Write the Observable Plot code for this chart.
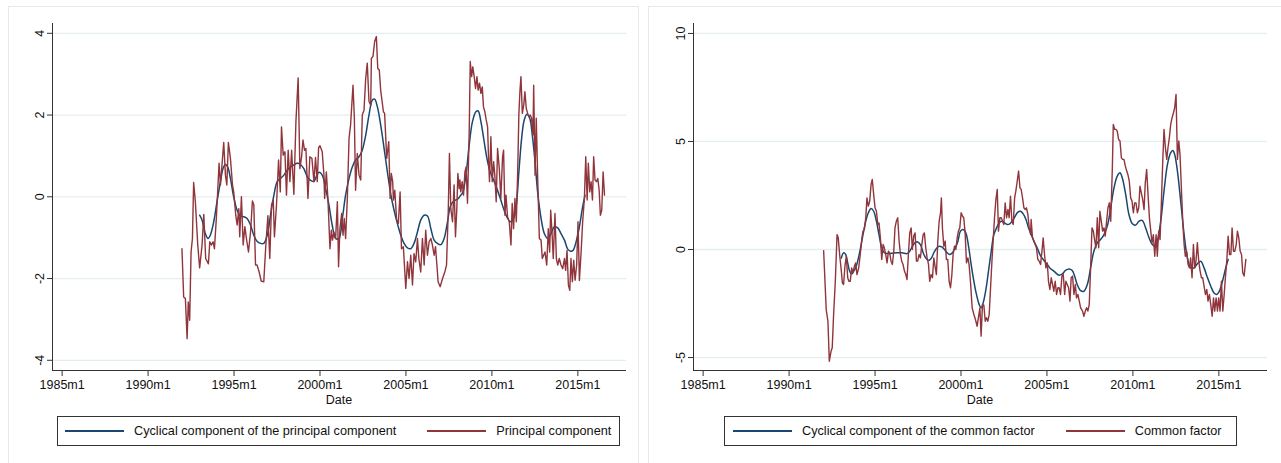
<!DOCTYPE html>
<html><head><meta charset="utf-8">
<script src="https://cdn.jsdelivr.net/npm/d3@7"></script>
<script src="https://cdn.jsdelivr.net/npm/@observablehq/plot@0.6"></script>
<style>
body{margin:0;background:#fff;font-family:"Liberation Sans",Arial,sans-serif;}
#page{position:relative;width:1281px;height:463px;overflow:hidden;}
.frame{position:absolute;border:1px solid #e3eaee;box-sizing:border-box;}
.chart{position:absolute;top:0;}
.xtitle{position:absolute;top:393px;width:100px;text-align:center;font-size:12.5px;color:#111;line-height:14px;}
.legend{position:absolute;top:416px;height:30px;border:1px solid #333;display:flex;align-items:center;font-size:12.7px;color:#111;box-sizing:border-box;white-space:nowrap;}
.key{display:inline-block;width:59px;height:0;border-top:2px solid;margin-right:10px;vertical-align:middle;}
.item{display:flex;align-items:center;}
</style></head>
<body><div id="page"></div>
<script>
// ---- data (decimal year, value) ----
const xTicks = [1985, 1990, 1995, 2000, 2005, 2010, 2015];
const xTickLabels = ["1985m1","1990m1","1995m1","2000m1","2005m1","2010m1","2015m1"];
const leftYTicks = [-4, -2, 0, 2, 4];
const rightYTicks = [-5, 0, 5, 10];
const leftLegend = ["Cyclical component of the principal component", "Principal component"];
const rightLegend = ["Cyclical component of the common factor", "Common factor"];

const principal = [[1991.97,-1.27],[1992.07,-2.45],[1992.17,-2.49],[1992.27,-3.47],[1992.34,-2.57],[1992.42,-3.02],[1992.5,-1.35],[1992.58,-1.02],[1992.65,0.35],[1992.75,-0.12],[1992.89,-1.18],[1993.0,-1.74],[1993.14,-1.18],[1993.24,-0.43],[1993.35,-1.51],[1993.51,-1.64],[1993.59,-1.1],[1993.68,-1.18],[1993.78,-1.1],[1993.86,-1.27],[1993.97,-0.53],[1994.13,0.82],[1994.21,0.29],[1994.3,0.78],[1994.4,1.33],[1994.5,0.53],[1994.58,0.29],[1994.67,1.33],[1994.79,0.94],[1994.91,0.29],[1994.98,0.12],[1995.1,-0.45],[1995.18,-0.69],[1995.28,-0.29],[1995.33,-0.98],[1995.43,0.0],[1995.53,-1.18],[1995.63,-0.73],[1995.72,-1.02],[1995.84,-1.35],[1995.96,-0.86],[1996.07,-0.1],[1996.15,-0.2],[1996.25,-1.67],[1996.34,-1.67],[1996.46,-1.84],[1996.58,-2.06],[1996.73,-2.08],[1996.85,-1.18],[1996.97,-0.46],[1997.08,-1.51],[1997.18,-0.2],[1997.28,-0.08],[1997.35,-0.98],[1997.47,-0.2],[1997.59,0.9],[1997.69,0.12],[1997.76,1.71],[1997.86,1.02],[1997.96,1.1],[1998.05,0.04],[1998.15,1.14],[1998.25,0.37],[1998.35,1.14],[1998.48,0.06],[1998.6,1.84],[1998.73,2.91],[1998.83,0.69],[1998.93,0.98],[1999.01,1.39],[1999.1,1.14],[1999.18,1.18],[1999.3,-0.04],[1999.41,0.98],[1999.53,0.94],[1999.65,0.37],[1999.74,0.96],[1999.84,0.37],[1999.92,1.2],[2000.0,1.25],[2000.13,1.1],[2000.23,0.53],[2000.27,-0.04],[2000.37,0.61],[2000.46,-0.04],[2000.58,-1.27],[2000.66,-0.82],[2000.73,-1.06],[2000.81,-0.86],[2000.91,-1.02],[2001.01,-0.12],[2001.08,-1.71],[2001.16,-0.78],[2001.26,-0.41],[2001.34,-0.94],[2001.41,-0.53],[2001.49,-1.02],[2001.59,-0.04],[2001.69,1.43],[2001.78,1.76],[2001.92,2.73],[2002.0,1.92],[2002.07,0.16],[2002.17,1.06],[2002.27,0.53],[2002.37,0.41],[2002.46,2.0],[2002.56,2.12],[2002.66,2.9],[2002.75,3.27],[2002.85,2.33],[2002.95,2.24],[2002.99,3.39],[2003.08,3.43],[2003.18,3.8],[2003.28,3.92],[2003.36,3.14],[2003.45,3.1],[2003.53,2.61],[2003.69,2.08],[2003.76,2.04],[2003.88,0.94],[2004.0,1.35],[2004.08,-0.04],[2004.15,0.57],[2004.23,0.37],[2004.27,-0.08],[2004.35,0.16],[2004.46,-0.57],[2004.56,-0.65],[2004.66,0.12],[2004.74,-1.27],[2004.85,-1.22],[2004.99,-2.24],[2005.09,-1.59],[2005.18,-2.0],[2005.28,-1.43],[2005.38,-2.16],[2005.47,-1.39],[2005.57,-1.59],[2005.67,-1.02],[2005.75,-1.51],[2005.86,-1.84],[2005.96,-1.02],[2006.06,-1.67],[2006.15,-0.82],[2006.25,-1.43],[2006.35,-1.1],[2006.45,-1.02],[2006.54,-1.18],[2006.64,-1.43],[2006.72,-1.22],[2006.8,-1.67],[2006.87,-2.08],[2006.99,-2.2],[2007.13,-2.0],[2007.26,-1.84],[2007.36,-1.67],[2007.46,-0.37],[2007.53,1.06],[2007.61,-0.29],[2007.71,-0.61],[2007.8,0.29],[2007.88,-0.98],[2007.96,-0.29],[2008.02,0.57],[2008.1,0.2],[2008.14,0.41],[2008.19,0.12],[2008.27,0.37],[2008.35,0.04],[2008.43,0.61],[2008.5,0.73],[2008.58,-0.16],[2008.68,1.59],[2008.74,3.31],[2008.82,2.94],[2008.89,3.18],[2008.97,2.94],[2009.05,2.65],[2009.13,2.94],[2009.2,2.61],[2009.28,2.78],[2009.36,2.53],[2009.44,2.69],[2009.51,2.2],[2009.59,2.08],[2009.67,1.88],[2009.75,1.71],[2009.81,0.86],[2009.86,0.37],[2009.94,1.47],[2010.02,0.37],[2010.1,0.86],[2010.17,0.53],[2010.25,-0.12],[2010.33,1.18],[2010.43,0.69],[2010.52,-0.04],[2010.62,0.98],[2010.68,1.14],[2010.76,-0.45],[2010.82,0.04],[2010.91,-0.49],[2011.01,-0.61],[2011.11,-1.18],[2011.18,-0.16],[2011.26,-0.78],[2011.34,-0.04],[2011.42,-0.61],[2011.5,0.61],[2011.57,2.04],[2011.63,2.57],[2011.69,2.94],[2011.77,2.04],[2011.85,2.24],[2011.92,2.57],[2012.0,2.16],[2012.08,2.04],[2012.16,1.96],[2012.23,2.0],[2012.31,1.92],[2012.39,1.51],[2012.43,2.73],[2012.51,0.53],[2012.58,1.92],[2012.66,0.53],[2012.76,-1.02],[2012.86,-1.06],[2012.93,-1.51],[2013.01,-1.43],[2013.09,-1.35],[2013.19,-1.67],[2013.28,-0.78],[2013.36,-1.35],[2013.42,-0.33],[2013.5,-0.9],[2013.57,-1.51],[2013.67,-0.41],[2013.75,-1.51],[2013.83,-1.67],[2013.92,-1.51],[2014.02,-1.67],[2014.12,-1.76],[2014.22,-1.51],[2014.29,-1.8],[2014.37,-1.31],[2014.45,-2.16],[2014.53,-2.29],[2014.6,-1.51],[2014.68,-2.08],[2014.76,-1.55],[2014.84,-2.04],[2014.93,-1.67],[2015.01,-0.61],[2015.09,-2.05],[2015.19,-1.35],[2015.28,-0.61],[2015.38,-0.04],[2015.46,0.98],[2015.54,-0.08],[2015.61,0.82],[2015.69,0.12],[2015.77,0.37],[2015.85,-0.08],[2015.92,0.98],[2016.0,0.41],[2016.08,0.37],[2016.16,0.45],[2016.24,0.16],[2016.31,-0.45],[2016.39,-0.33],[2016.47,0.61],[2016.55,0.04]];

const principalCycle = [[1993.0,-0.45],[1993.14,-0.57],[1993.33,-0.9],[1993.49,-1.02],[1993.62,-0.94],[1993.82,-0.61],[1994.01,-0.12],[1994.21,0.37],[1994.36,0.69],[1994.5,0.79],[1994.63,0.73],[1994.79,0.45],[1994.98,0.0],[1995.18,-0.33],[1995.37,-0.47],[1995.57,-0.49],[1995.76,-0.53],[1995.96,-0.69],[1996.15,-0.94],[1996.34,-1.09],[1996.54,-1.14],[1996.73,-1.14],[1996.93,-0.94],[1997.12,-0.45],[1997.32,0.04],[1997.51,0.37],[1997.7,0.45],[1997.9,0.53],[1998.09,0.65],[1998.29,0.73],[1998.48,0.78],[1998.67,0.82],[1998.87,0.79],[1999.06,0.69],[1999.26,0.49],[1999.45,0.4],[1999.65,0.38],[1999.84,0.55],[1999.96,0.6],[2000.13,0.53],[2000.33,0.2],[2000.52,-0.2],[2000.71,-0.69],[2000.91,-1.02],[2001.1,-1.02],[2001.3,-0.53],[2001.49,0.04],[2001.69,0.45],[2001.88,0.73],[2002.07,0.9],[2002.27,0.98],[2002.46,1.14],[2002.66,1.51],[2002.85,2.0],[2003.05,2.37],[2003.18,2.39],[2003.34,2.2],[2003.53,1.76],[2003.73,1.18],[2003.92,0.61],[2004.11,0.08],[2004.31,-0.33],[2004.5,-0.65],[2004.7,-0.94],[2004.89,-1.14],[2005.09,-1.25],[2005.28,-1.27],[2005.47,-1.14],[2005.67,-0.86],[2005.86,-0.57],[2006.06,-0.45],[2006.25,-0.47],[2006.45,-0.78],[2006.64,-1.06],[2006.83,-1.14],[2007.03,-1.17],[2007.22,-1.02],[2007.42,-0.61],[2007.61,-0.2],[2007.8,-0.1],[2008.0,-0.06],[2008.19,0.04],[2008.3,0.1],[2008.49,0.53],[2008.68,1.27],[2008.87,1.84],[2009.07,2.08],[2009.2,2.1],[2009.36,1.84],[2009.55,1.35],[2009.71,0.94],[2009.9,0.61],[2010.1,0.41],[2010.29,0.2],[2010.49,-0.04],[2010.68,-0.29],[2010.87,-0.49],[2011.07,-0.61],[2011.26,-0.53],[2011.42,-0.2],[2011.57,0.61],[2011.73,1.43],[2011.88,1.88],[2012.04,2.02],[2012.2,1.92],[2012.35,1.51],[2012.51,0.86],[2012.66,0.12],[2012.86,-0.53],[2013.05,-0.9],[2013.24,-1.02],[2013.44,-0.9],[2013.63,-0.73],[2013.83,-0.76],[2014.02,-0.9],[2014.22,-1.06],[2014.41,-1.28],[2014.57,-1.33],[2014.72,-1.31],[2014.9,-1.1],[2015.09,-0.73],[2015.28,-0.24],[2015.42,0.04]];

const common = [[1992.01,-0.05],[1992.16,-2.78],[1992.26,-3.32],[1992.34,-5.17],[1992.44,-4.71],[1992.51,-4.55],[1992.59,-3.01],[1992.69,-1.47],[1992.79,0.69],[1992.86,0.54],[1992.94,-0.23],[1993.04,-1.0],[1993.1,-1.54],[1993.17,-1.62],[1993.25,-0.77],[1993.33,-0.31],[1993.41,-1.31],[1993.48,-1.47],[1993.56,-1.47],[1993.64,-0.85],[1993.72,-1.08],[1993.8,-0.77],[1993.87,-0.62],[1993.95,-1.16],[1994.05,-0.85],[1994.14,-0.23],[1994.24,0.54],[1994.3,0.85],[1994.38,0.93],[1994.46,1.47],[1994.53,2.39],[1994.61,2.01],[1994.69,2.24],[1994.77,3.01],[1994.84,3.24],[1994.92,2.55],[1995.0,1.93],[1995.08,1.77],[1995.16,1.16],[1995.23,1.23],[1995.31,0.54],[1995.39,-0.46],[1995.47,0.23],[1995.54,0.08],[1995.62,-0.23],[1995.7,-0.62],[1995.78,-0.08],[1995.85,-0.15],[1995.93,-0.54],[1996.01,-0.69],[1996.09,-0.08],[1996.16,1.0],[1996.24,1.31],[1996.32,1.47],[1996.4,0.39],[1996.48,-0.23],[1996.55,-0.54],[1996.63,-0.69],[1996.71,-1.0],[1996.79,-1.16],[1996.86,-1.39],[1996.94,-0.23],[1997.02,0.77],[1997.1,1.0],[1997.17,0.0],[1997.25,0.62],[1997.33,0.77],[1997.41,-0.54],[1997.48,-0.54],[1997.56,-0.23],[1997.64,-0.39],[1997.72,0.23],[1997.8,0.69],[1997.87,0.77],[1997.95,0.08],[1998.03,-0.39],[1998.11,-0.69],[1998.18,-1.47],[1998.26,-1.16],[1998.34,-1.31],[1998.42,-0.39],[1998.49,-0.77],[1998.57,-1.16],[1998.65,0.39],[1998.73,1.31],[1998.81,1.7],[1998.86,2.39],[1998.92,1.0],[1999.0,0.15],[1999.08,0.39],[1999.15,-0.46],[1999.23,-0.46],[1999.31,-1.47],[1999.39,-1.77],[1999.47,-1.16],[1999.54,-0.23],[1999.62,0.15],[1999.7,0.0],[1999.78,0.54],[1999.85,0.85],[1999.93,1.0],[2000.01,1.7],[2000.09,1.54],[2000.16,1.47],[2000.24,0.77],[2000.32,-0.62],[2000.4,-0.39],[2000.47,-0.69],[2000.55,-1.47],[2000.65,-2.7],[2000.75,-3.01],[2000.84,-3.24],[2000.94,-3.55],[2001.04,-3.01],[2001.1,-2.7],[2001.17,-4.01],[2001.25,-2.55],[2001.33,-2.58],[2001.41,-3.32],[2001.48,-3.16],[2001.56,-3.32],[2001.64,-3.01],[2001.72,-1.77],[2001.8,-0.54],[2001.87,0.39],[2001.95,1.47],[2002.03,2.31],[2002.11,2.78],[2002.18,0.85],[2002.26,1.47],[2002.34,1.47],[2002.42,1.31],[2002.49,1.16],[2002.57,2.16],[2002.65,1.47],[2002.73,1.85],[2002.8,1.47],[2002.88,2.47],[2002.96,1.31],[2003.04,1.16],[2003.12,2.39],[2003.19,2.7],[2003.27,3.16],[2003.35,3.63],[2003.43,2.85],[2003.5,2.78],[2003.58,2.39],[2003.66,1.93],[2003.74,1.85],[2003.81,1.93],[2003.89,1.62],[2003.97,1.0],[2004.05,0.69],[2004.08,1.39],[2004.16,0.54],[2004.24,0.39],[2004.32,0.23],[2004.39,0.08],[2004.47,-0.46],[2004.55,-0.54],[2004.63,-0.69],[2004.71,-0.08],[2004.78,0.54],[2004.86,-0.23],[2004.94,-0.85],[2005.02,-0.62],[2005.09,-1.47],[2005.17,-1.85],[2005.25,-1.31],[2005.33,-1.62],[2005.4,-1.93],[2005.48,-1.47],[2005.56,-2.08],[2005.64,-1.77],[2005.71,-1.77],[2005.79,-2.08],[2005.87,-1.23],[2005.95,-1.16],[2006.03,-2.08],[2006.1,-1.47],[2006.18,-1.62],[2006.26,-1.77],[2006.34,-2.39],[2006.41,-1.31],[2006.49,-1.23],[2006.57,-2.08],[2006.65,-1.62],[2006.72,-2.24],[2006.8,-2.08],[2006.88,-2.39],[2006.96,-2.7],[2007.07,-2.85],[2007.15,-3.09],[2007.23,-2.85],[2007.31,-2.7],[2007.38,-2.85],[2007.46,-2.55],[2007.54,-0.85],[2007.62,1.0],[2007.7,0.85],[2007.77,0.46],[2007.85,0.08],[2007.93,1.47],[2008.01,0.08],[2008.08,1.77],[2008.16,1.31],[2008.24,0.85],[2008.32,1.0],[2008.39,0.62],[2008.47,1.31],[2008.55,1.93],[2008.63,2.16],[2008.71,1.31],[2008.8,3.63],[2008.86,5.79],[2008.94,5.56],[2009.02,5.56],[2009.09,5.48],[2009.17,5.09],[2009.25,5.02],[2009.33,4.24],[2009.4,4.17],[2009.48,4.17],[2009.56,3.86],[2009.64,3.63],[2009.71,3.47],[2009.79,3.16],[2009.87,2.39],[2009.95,2.24],[2009.99,1.93],[2010.03,1.7],[2010.1,2.16],[2010.18,2.16],[2010.26,1.7],[2010.34,1.93],[2010.41,2.93],[2010.49,2.62],[2010.57,2.31],[2010.65,1.85],[2010.72,3.09],[2010.8,3.7],[2010.88,2.55],[2010.96,1.47],[2011.03,0.93],[2011.11,0.31],[2011.19,0.69],[2011.27,-0.31],[2011.35,0.69],[2011.42,-0.31],[2011.5,0.85],[2011.58,0.46],[2011.66,2.24],[2011.73,3.94],[2011.81,5.56],[2011.89,4.71],[2011.97,4.17],[2012.04,4.71],[2012.12,5.17],[2012.2,5.79],[2012.28,6.1],[2012.36,6.33],[2012.43,6.56],[2012.51,7.18],[2012.59,4.17],[2012.67,5.02],[2012.74,4.4],[2012.82,2.85],[2012.9,1.31],[2012.98,0.23],[2013.05,-0.31],[2013.13,-0.08],[2013.21,-0.69],[2013.29,-0.85],[2013.36,-0.39],[2013.44,-1.31],[2013.52,0.23],[2013.6,-0.85],[2013.67,-0.54],[2013.75,0.31],[2013.83,-0.54],[2013.91,-1.0],[2013.99,-1.31],[2014.06,-1.31],[2014.14,-1.7],[2014.22,-2.08],[2014.3,-1.85],[2014.37,-2.39],[2014.45,-2.08],[2014.53,-2.55],[2014.61,-3.09],[2014.69,-2.24],[2014.76,-2.85],[2014.84,-2.24],[2014.92,-2.85],[2014.99,-2.24],[2015.07,-2.85],[2015.15,-1.47],[2015.23,-2.85],[2015.31,-2.08],[2015.38,-1.31],[2015.46,-0.54],[2015.54,0.62],[2015.62,-0.23],[2015.7,-0.23],[2015.77,1.0],[2015.85,-0.08],[2015.93,-0.08],[2016.01,0.23],[2016.08,0.85],[2016.16,0.54],[2016.24,-0.08],[2016.32,-0.23],[2016.39,-1.08],[2016.47,-1.23],[2016.57,-0.46]];

const commonCycle = [[1993.04,-0.39],[1993.17,-0.15],[1993.29,-0.23],[1993.41,-0.62],[1993.52,-1.0],[1993.64,-1.13],[1993.76,-1.0],[1993.87,-0.85],[1993.99,-0.54],[1994.14,0.0],[1994.3,0.69],[1994.46,1.31],[1994.61,1.7],[1994.77,1.9],[1994.92,1.77],[1995.08,1.31],[1995.23,0.69],[1995.39,0.08],[1995.54,-0.15],[1995.74,-0.19],[1995.99,-0.17],[1996.28,-0.15],[1996.57,-0.15],[1996.86,-0.19],[1997.02,-0.08],[1997.17,0.15],[1997.33,0.32],[1997.48,0.35],[1997.64,0.23],[1997.8,-0.15],[1997.95,-0.39],[1998.11,-0.51],[1998.26,-0.42],[1998.42,-0.15],[1998.57,0.05],[1998.73,0.15],[1998.88,0.12],[1999.04,0.0],[1999.19,-0.15],[1999.35,-0.23],[1999.5,-0.15],[1999.66,0.08],[1999.81,0.35],[1999.97,0.85],[2000.13,0.93],[2000.28,0.77],[2000.44,0.15],[2000.59,-0.69],[2000.75,-1.47],[2000.9,-2.08],[2001.06,-2.55],[2001.17,-2.7],[2001.29,-2.47],[2001.45,-1.85],[2001.6,-1.0],[2001.76,-0.08],[2001.91,0.69],[2002.07,1.0],[2002.22,1.23],[2002.38,1.31],[2002.53,1.23],[2002.69,1.16],[2002.84,1.19],[2003.0,1.34],[2003.15,1.54],[2003.31,1.73],[2003.46,1.77],[2003.62,1.65],[2003.78,1.39],[2003.93,1.0],[2004.05,0.77],[2004.24,0.39],[2004.43,0.08],[2004.63,-0.3],[2004.82,-0.5],[2005.02,-0.69],[2005.2,-0.88],[2005.4,-1.0],[2005.7,-1.19],[2005.89,-1.13],[2006.08,-0.97],[2006.28,-0.9],[2006.47,-0.97],[2006.61,-1.23],[2006.76,-1.62],[2006.96,-1.9],[2007.15,-1.93],[2007.35,-1.62],[2007.54,-0.85],[2007.73,-0.08],[2007.93,0.31],[2008.12,0.46],[2008.32,0.69],[2008.51,1.08],[2008.71,1.93],[2008.9,2.85],[2009.09,3.4],[2009.25,3.55],[2009.38,3.32],[2009.58,2.55],[2009.77,1.62],[2009.97,1.19],[2010.16,1.13],[2010.36,1.31],[2010.55,1.34],[2010.74,1.0],[2010.94,0.54],[2011.13,0.23],[2011.27,0.15],[2011.42,0.39],[2011.62,1.31],[2011.81,2.7],[2012.01,3.94],[2012.2,4.48],[2012.32,4.58],[2012.43,4.4],[2012.59,3.63],[2012.78,2.24],[2012.98,0.69],[2013.17,-0.39],[2013.36,-0.85],[2013.56,-0.85],[2013.75,-0.66],[2013.95,-0.54],[2014.14,-0.85],[2014.34,-1.31],[2014.53,-1.7],[2014.72,-2.01],[2014.88,-2.08],[2015.03,-1.93],[2015.21,-1.47],[2015.4,-0.85],[2015.54,-0.46]];

// ---- styles ----
const RED = "#90353b", BLUE = "#1a476f";
const FONT = "'Liberation Sans', Arial, sans-serif";
const xDomain = [1984.44, 2017.83];

const page = document.getElementById("page");

function addFrame(left, width) {
  const f = document.createElement("div");
  f.className = "frame";
  Object.assign(f.style, {left: left + "px", top: "6px", width: width + "px", height: "470px"});
  page.appendChild(f);
}
addFrame(8, 631);
addFrame(648, 640);

function panel({left, width, ml, mr, yDomain, yTicks, raw, cyc, legend, legendLeft, legendWidth, legendPad}) {
  const chart = Plot.plot({
    width, height: 410,
    marginLeft: ml, marginRight: mr, marginTop: 23, marginBottom: 40,
    style: {fontFamily: FONT, fontSize: "12.5px", color: "#111", background: "transparent", overflow: "visible"},
    x: {domain: xDomain, label: null},
    y: {domain: yDomain, label: null},
    marks: [
      Plot.gridY(yTicks, {stroke: "#e4edf0", strokeOpacity: 1, strokeWidth: 1.3}),
      Plot.axisY(yTicks, {tickRotate: -90, tickSize: 5, tickPadding: 4, label: null, tickFormat: d => String(d), stroke: "#333"}),
      Plot.axisX(xTicks, {tickSize: 6, tickPadding: 4, label: null, tickFormat: d => xTickLabels[xTicks.indexOf(d)], stroke: "#333"}),
      Plot.ruleX([xDomain[0]], {stroke: "#333", strokeWidth: 1}),
      Plot.ruleY([yDomain[0]], {stroke: "#333", strokeWidth: 1}),
      Plot.line(cyc, {x: d => d[0], y: d => d[1], stroke: BLUE, strokeWidth: 1.5, curve: "catmull-rom"}),
      Plot.line(raw, {x: d => d[0], y: d => d[1], stroke: RED, strokeWidth: 1.4})
    ]
  });
  chart.classList.add("chart");
  chart.style.left = left + "px";
  page.appendChild(chart);

  const center = left + (ml + (width - mr)) / 2;
  const t = document.createElement("div");
  t.className = "xtitle";
  t.style.left = (center - 50) + "px";
  t.textContent = "Date";
  page.appendChild(t);

  const lg = document.createElement("div");
  lg.className = "legend";
  Object.assign(lg.style, {left: legendLeft + "px", width: legendWidth + "px", paddingLeft: legendPad + "px"});
  [[BLUE, legend[0]], [RED, legend[1]]].forEach(([c, txt], i) => {
    const it = document.createElement("div");
    it.className = "item";
    if (i === 1) it.style.marginLeft = "31px";
    const k = document.createElement("span");
    k.className = "key";
    k.style.borderTopColor = c;
    const s = document.createElement("span");
    s.textContent = txt;
    it.appendChild(k); it.appendChild(s);
    lg.appendChild(it);
  });
  page.appendChild(lg);
}

panel({left: 0, width: 640, ml: 52, mr: 14, yDomain: [-4.25, 4.24], yTicks: leftYTicks,
  raw: principal, cyc: principalCycle, legend: leftLegend, legendLeft: 57, legendWidth: 563, legendPad: 7});
panel({left: 640, width: 641, ml: 53, mr: 14, yDomain: [-5.6, 10.46], yTicks: rightYTicks,
  raw: common, cyc: commonCycle, legend: rightLegend, legendLeft: 724, legendWidth: 513, legendPad: 8});
</script></body></html>
